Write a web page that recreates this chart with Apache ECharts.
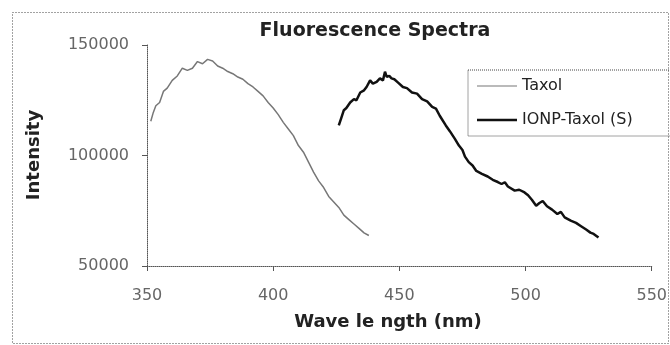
<!DOCTYPE html>
<html>
<head>
<meta charset="utf-8">
<script src="https://cdn.jsdelivr.net/npm/echarts@6/dist/echarts.min.js"></script>
<style>html,body{margin:0;padding:0;background:#fff;}#c{width:670px;height:345px;}</style>
</head>
<body>
<div id="c"></div>
<script>
var chartTitle = 'Fluorescence Spectra';
var xTitle = 'Wave le ngth (nm)';
var yTitle = 'Intensity';
var seriesNames = ['Taxol', 'IONP-Taxol (S)'];
var xTicks = [350, 400, 450, 500, 550];
var yTicks = [50000, 100000, 150000];

var taxol = [[351.5,115500],[352.5,119500],[353.5,122500],[355,124000],[356.5,129000],[358,130500],[360,134000],[362,136000],[364,139500],[366,138500],[368,139500],[370,142500],[372,141500],[374,143500],[376,142800],[378,140500],[380,139500],[382,138000],[384,137000],[386,135500],[388,134500],[390,132500],[392,131000],[394,129000],[396,127000],[398,124000],[400,121500],[402,118500],[404,115000],[406,112000],[408,109000],[410,104500],[412,101500],[414,97000],[416,92500],[418,88500],[420,85500],[422,81500],[424,79000],[426,76500],[428,73000],[430,71000],[432,69000],[434,67000],[436,65000],[437.9,63800]];

var ionp = [[426,113600],[427,117000],[428,120500],[429,121500],[430.5,124000],[432,125500],[433,125000],[434.5,128500],[436,129500],[437,131000],[438.4,134000],[439.5,132500],[441,133300],[442.3,134900],[443.5,134000],[444.3,137900],[445,135600],[446,136000],[446.9,134900],[448,134500],[449.5,133000],[451.4,131000],[453,130500],[455,128500],[457,128000],[459,125500],[461,124500],[463,122000],[464.5,121200],[466,118000],[468.4,113600],[470,111000],[472,107500],[473.6,104500],[475,102500],[476,99500],[477.5,97000],[479,95500],[480.5,93000],[482.7,91700],[485,90500],[487,89000],[489,88000],[490.5,87100],[491.8,87900],[493,86000],[495.7,84100],[497.5,84500],[499.6,83300],[501,82000],[502.5,80000],[504.2,77300],[505.5,78500],[506.8,79400],[508.5,77000],[510.5,75500],[512.6,73500],[514,74500],[515.5,72000],[517.9,70500],[520,69500],[522,68000],[524,66500],[525.7,65100],[527,64500],[528.9,62900]];

var FONT = 'DejaVu Sans';
var chart = echarts.init(document.getElementById('c'));
chart.setOption({
  animation: false,
  backgroundColor: '#fff',
  grid: {left: 147, right: 11, top: 45, bottom: 79},
  xAxis: {
    type: 'value', min: xTicks[0], max: xTicks[xTicks.length-1], interval: 50,
    splitLine: {show: false},
    axisLine: {show: true, lineStyle: {color: '#555', width: 1, type: 'dotted'}},
    axisTick: {show: true, length: 5, lineStyle: {color: '#555'}},
    axisLabel: {margin: 22, color: '#666', fontSize: 16, fontFamily: FONT,
      formatter: function (v) { return String(v); }}
  },
  yAxis: {
    type: 'value', min: yTicks[0], max: yTicks[yTicks.length-1], interval: 50000,
    splitLine: {show: false},
    axisLine: {show: true, lineStyle: {color: '#555', width: 1, type: 'dotted'}},
    axisTick: {show: true, length: 5, lineStyle: {color: '#555'}},
    axisLabel: {margin: 18, color: '#666', fontSize: 16, fontFamily: FONT,
      formatter: function (v) { return String(v); }}
  },
  legend: {
    orient: 'vertical', left: 468, top: 70,
    padding: [8, 38, 8, 9], itemGap: 18, itemWidth: 40, itemHeight: 14,
    borderColor: '#444', borderWidth: 1, borderType: 'dotted',
    textStyle: {fontSize: 16, fontFamily: FONT, color: '#222'},
    data: [
      {name: seriesNames[0], icon: 'path://M0,0 H40 V1.2 H0 Z'},
      {name: seriesNames[1], icon: 'path://M0,0 H40 V2.5 H0 Z'}
    ]
  },
  series: [
    {name: seriesNames[0], type: 'line', data: taxol, symbol: 'none',
     lineStyle: {color: '#777', width: 1.5}, itemStyle: {color: '#777'}},
    {name: seriesNames[1], type: 'line', data: ionp, symbol: 'none',
     lineStyle: {color: '#111', width: 2.5}, itemStyle: {color: '#111'}}
  ],
  graphic: [
    {type: 'rect', shape: {x: 12.5, y: 12.5, width: 656, height: 331}, silent: true,
     style: {fill: 'none', stroke: '#444', lineWidth: 1, lineDash: [1, 2]}},
    {type: 'text', x: 375, y: 31, silent: true,
     style: {text: chartTitle, font: 'bold 19px "DejaVu Sans"', fill: '#222', textAlign: 'center', textVerticalAlign: 'middle'}},
    {type: 'text', x: 388, y: 322, silent: true,
     style: {text: xTitle, font: 'bold 18px "DejaVu Sans"', fill: '#222', textAlign: 'center', textVerticalAlign: 'middle'}},
    {type: 'text', x: 34, y: 155, rotation: Math.PI / 2, silent: true,
     style: {text: yTitle, font: 'bold 18px "DejaVu Sans"', fill: '#222', textAlign: 'center', textVerticalAlign: 'middle'}}
  ]
});
</script>
</body>
</html>
